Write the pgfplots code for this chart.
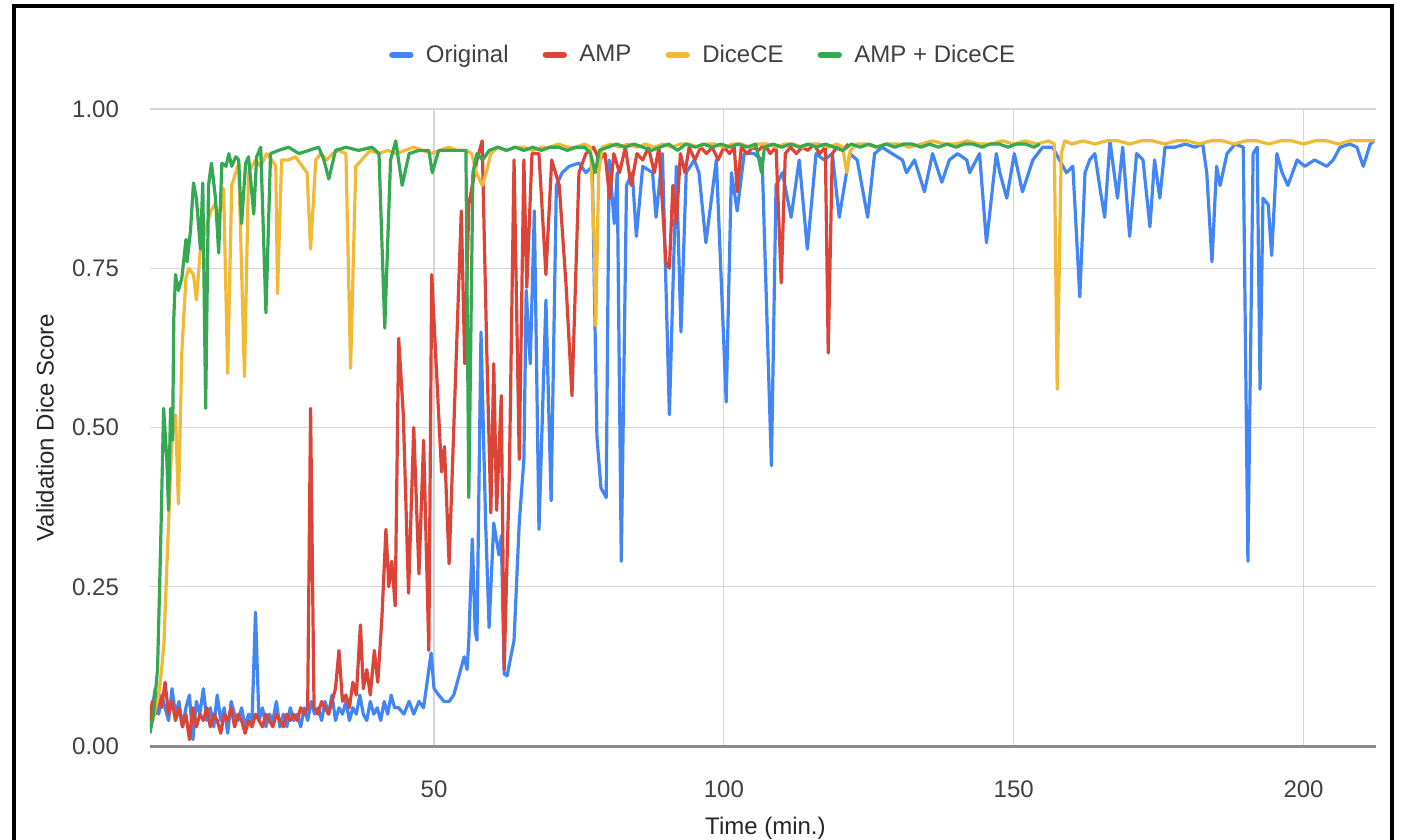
\documentclass[border=0pt]{standalone}
\usepackage{fontspec}
\setmainfont{Liberation Sans}
\usepackage{pgfplots}
\pgfplotsset{compat=1.18}

\definecolor{gblue}{HTML}{4285F4}
\definecolor{gred}{HTML}{DB4437}
\definecolor{gyellow}{HTML}{F2B936}
\definecolor{ggreen}{HTML}{34A853}
\definecolor{txt}{HTML}{404040}

\begin{document}
\begin{tikzpicture}
\path[use as bounding box] (-75pt,-47pt) rectangle (626pt,373pt);
\begin{axis}[
  scale only axis,
  width=613pt, height=318.5pt,
  xmin=1, xmax=212.5, ymin=0, ymax=1,
  xtick={50,100,150,200},
  ytick={0,0.25,0.5,0.75,1},
  /pgf/number format/assume math mode=true,
  tick label style={font=\fontsize{12}{14}\selectfont, text=txt},
  yticklabel style={/pgf/number format/fixed, /pgf/number format/fixed zerofill, /pgf/number format/precision=2, xshift=-12pt},
  xticklabel style={yshift=-14pt},
  major tick length=0pt,
  axis line style={draw=none},
  grid=major,
  major grid style={draw=black!16, line width=0.6pt},
  extra y ticks={0},
  extra y tick labels={},
  extra y tick style={grid=major, major grid style={draw=black!45, line width=1.5pt}},
  xlabel={Time (min.)},
  ylabel={Validation Dice Score},
  label style={font=\fontsize{12}{14}\selectfont, text=black!85},
  xlabel style={at={(axis description cs:0.502,-0.129)}, anchor=center},
  ylabel style={at={(axis description cs:-0.0856,0.5)}, anchor=center},
  legend style={draw=none, fill=none, at={(axis description cs:0.452,1.085)}, anchor=center,
    font=\fontsize{12}{14}\selectfont, text=txt,
    /tikz/every even column/.append style={column sep=15pt}},
  legend columns=-1,
  legend image code/.code={\draw[#1, line width=3.2pt, line cap=round] (0pt,0pt) -- (9pt,0pt); \path (14pt,0pt);},
  every axis plot/.append style={line width=1.6pt, line join=round},
]
\addplot[gblue] coordinates {
(1.0,0.03) (1.4,0.06) (1.9,0.09) (2.5,0.05) (3.0,0.08) (3.6,0.06) (4.2,0.04) (4.8,0.09) (5.4,0.05) (6.0,0.07) (6.6,0.03) (7.2,0.06) (7.8,0.08) (8.4,0.01) (9.0,0.07) (9.6,0.05) (10.2,0.09) (10.8,0.04) (11.4,0.06) (12.0,0.03) (12.6,0.08) (13.2,0.04) (13.8,0.06) (14.4,0.02) (15.0,0.07) (15.6,0.05) (16.2,0.04) (16.8,0.06) (17.4,0.03) (18.0,0.05) (18.6,0.04) (19.2,0.21) (19.8,0.04) (20.4,0.06) (21.0,0.03) (21.6,0.05) (22.2,0.04) (22.8,0.07) (23.4,0.03) (24.0,0.05) (24.6,0.03) (25.2,0.06) (25.8,0.04) (26.4,0.05) (27.0,0.03) (27.6,0.06) (28.2,0.04) (28.8,0.07) (29.4,0.05) (30.0,0.06) (30.6,0.04) (31.2,0.07) (31.8,0.05) (32.4,0.08) (33.0,0.04) (33.6,0.06) (34.2,0.05) (34.8,0.07) (35.4,0.04) (36.0,0.06) (36.6,0.05) (37.2,0.08) (37.8,0.05) (38.4,0.04) (39.0,0.07) (39.6,0.05) (40.2,0.06) (40.8,0.04) (41.4,0.07) (42.0,0.05) (42.6,0.08) (43.2,0.06) (43.9,0.06) (44.8,0.05) (45.7,0.07) (46.5,0.05) (47.4,0.07) (48.2,0.06) (48.8,0.10) (49.5,0.146) (50.0,0.09) (50.8,0.08) (51.7,0.07) (52.6,0.07) (53.4,0.08) (54.3,0.11) (55.2,0.14) (55.7,0.12) (56.0,0.166) (56.6,0.325) (57.1,0.18) (57.4,0.166) (58.1,0.65) (58.9,0.35) (59.5,0.186) (60.3,0.35) (61.2,0.30) (61.6,0.33) (62.1,0.113) (62.6,0.11) (63.8,0.166) (64.7,0.35) (65.5,0.45) (65.9,0.715) (66.6,0.6) (67.3,0.84) (68.1,0.34) (69.3,0.70) (70.2,0.385) (71.1,0.88) (72.1,0.90) (73.3,0.91) (75.0,0.915) (76.2,0.90) (77.3,0.91) (78.1,0.485) (78.8,0.405) (79.7,0.39) (80.2,0.92) (81.1,0.82) (81.6,0.90) (82.3,0.29) (83.2,0.88) (84.2,0.90) (84.9,0.80) (86.0,0.91) (87.7,0.90) (88.3,0.83) (89.4,0.93) (90.6,0.52) (91.8,0.91) (92.6,0.65) (93.5,0.90) (94.9,0.92) (95.7,0.90) (96.9,0.79) (98.7,0.92) (100.4,0.54) (101.3,0.90) (102.3,0.84) (103.5,0.93) (105.2,0.93) (106.6,0.92) (108.2,0.44) (109.0,0.88) (110.1,0.90) (111.6,0.83) (113.0,0.92) (114.4,0.78) (115.9,0.93) (117.3,0.92) (118.7,0.93) (119.9,0.83) (121.7,0.93) (123.0,0.92) (124.8,0.83) (126.0,0.93) (127.3,0.94) (129.0,0.93) (130.8,0.92) (131.5,0.90) (132.9,0.92) (134.6,0.87) (136.0,0.93) (137.6,0.885) (138.9,0.92) (140.3,0.93) (141.9,0.92) (142.4,0.90) (144.1,0.93) (145.3,0.79) (147.0,0.93) (147.6,0.90) (148.8,0.86) (150.1,0.93) (151.5,0.87) (153.3,0.92) (155.0,0.94) (156.7,0.94) (157.9,0.92) (159.1,0.90) (160.2,0.91) (161.4,0.705) (162.3,0.90) (163.1,0.92) (164.0,0.93) (164.8,0.88) (165.7,0.83) (166.6,0.95) (167.9,0.86) (168.8,0.94) (170.0,0.80) (171.2,0.93) (172.3,0.92) (173.5,0.815) (174.3,0.92) (175.2,0.86) (176.1,0.94) (177.8,0.94) (179.6,0.945) (181.3,0.94) (182.6,0.945) (183.3,0.90) (184.2,0.76) (185.0,0.91) (185.6,0.88) (186.8,0.93) (188.2,0.945) (189.6,0.94) (190.4,0.29) (191.3,0.93) (192.0,0.94) (192.5,0.56) (193.0,0.86) (193.9,0.85) (194.5,0.77) (195.4,0.93) (196.3,0.90) (197.3,0.88) (198.9,0.92) (200.2,0.91) (201.9,0.92) (204.0,0.91) (205.1,0.92) (206.3,0.94) (208.0,0.945) (209.2,0.94) (210.3,0.91) (211.5,0.945) (212.2,0.95)
};
\addplot[gred] coordinates {
(1.0,0.04) (1.4,0.07) (1.9,0.05) (2.5,0.08) (3.0,0.06) (3.6,0.10) (4.2,0.05) (4.8,0.07) (5.4,0.04) (6.0,0.06) (6.6,0.03) (7.2,0.05) (7.8,0.01) (8.4,0.06) (9.0,0.03) (9.6,0.05) (10.2,0.04) (10.8,0.06) (11.4,0.03) (12.0,0.05) (12.6,0.04) (13.2,0.02) (13.8,0.05) (14.4,0.04) (15.0,0.06) (15.6,0.03) (16.2,0.05) (16.8,0.04) (17.4,0.02) (18.0,0.04) (18.6,0.03) (19.2,0.05) (19.8,0.04) (20.4,0.03) (21.0,0.05) (21.6,0.04) (22.2,0.03) (22.8,0.05) (23.4,0.04) (24.0,0.03) (24.6,0.05) (25.2,0.04) (25.8,0.05) (26.4,0.04) (27.0,0.06) (27.6,0.05) (28.2,0.06) (28.7,0.53) (29.3,0.06) (30.0,0.05) (30.6,0.07) (31.2,0.06) (31.8,0.05) (32.4,0.07) (33.0,0.09) (33.6,0.15) (34.2,0.07) (34.8,0.08) (35.4,0.06) (36.0,0.10) (36.6,0.08) (37.3,0.19) (37.8,0.09) (38.4,0.12) (39.0,0.08) (39.7,0.15) (40.3,0.10) (41.0,0.20) (41.7,0.34) (42.2,0.25) (42.7,0.29) (43.3,0.22) (43.9,0.64) (44.7,0.52) (45.6,0.24) (46.5,0.50) (47.4,0.27) (48.2,0.48) (49.1,0.15) (49.6,0.74) (50.8,0.52) (51.3,0.43) (51.8,0.47) (52.6,0.286) (54.7,0.84) (55.3,0.60) (56.0,0.85) (57.4,0.92) (58.3,0.95) (59.1,0.62) (59.8,0.366) (60.3,0.60) (60.8,0.37) (61.6,0.55) (62.1,0.12) (63.0,0.43) (63.8,0.92) (64.7,0.45) (65.5,0.92) (66.0,0.72) (66.9,0.93) (68.1,0.93) (69.3,0.74) (70.3,0.92) (71.6,0.88) (72.8,0.72) (73.8,0.55) (75.0,0.90) (76.2,0.93) (77.5,0.94) (78.5,0.92) (79.5,0.93) (80.3,0.86) (81.0,0.93) (82.0,0.90) (83.0,0.94) (84.0,0.88) (85.0,0.93) (86.0,0.92) (87.0,0.94) (88.0,0.90) (88.8,0.94) (89.4,0.85) (90.0,0.76) (90.6,0.75) (91.2,0.88) (91.8,0.82) (92.5,0.93) (93.3,0.90) (94.0,0.94) (95.0,0.92) (96.0,0.94) (97.0,0.93) (98.0,0.94) (99.0,0.92) (100.0,0.94) (101.0,0.93) (101.8,0.94) (102.3,0.87) (103.0,0.94) (104.0,0.93) (105.0,0.94) (106.0,0.935) (107.0,0.945) (108.0,0.93) (109.0,0.94) (109.9,0.727) (110.6,0.93) (111.5,0.94) (112.5,0.93) (113.5,0.94) (114.5,0.935) (115.5,0.945) (116.5,0.93) (117.5,0.94) (118.0,0.617) (118.7,0.93) (119.5,0.94) (120.5,0.935) (121.5,0.945)
};
\addplot[gyellow] coordinates {
(1.0,0.03) (1.5,0.04) (2.0,0.06) (2.5,0.08) (3.0,0.12) (3.4,0.16) (3.9,0.28) (4.2,0.35) (4.6,0.44) (4.9,0.50) (5.4,0.52) (5.9,0.38) (6.5,0.62) (7.2,0.735) (7.7,0.75) (8.5,0.74) (9.0,0.70) (9.7,0.78) (10.6,0.81) (11.5,0.84) (12.2,0.85) (12.9,0.83) (13.7,0.875) (14.4,0.585) (15.1,0.88) (16.3,0.915) (17.3,0.58) (18.0,0.90) (19.2,0.92) (20.1,0.91) (21.1,0.93) (22.0,0.92) (22.7,0.91) (23.0,0.71) (23.7,0.92) (24.9,0.92) (26.1,0.925) (27.3,0.91) (28.1,0.90) (28.7,0.78) (29.6,0.92) (30.5,0.93) (31.5,0.92) (32.5,0.93) (33.5,0.935) (34.8,0.93) (35.6,0.593) (36.5,0.91) (37.5,0.92) (39.0,0.935) (40.5,0.93) (42.0,0.935) (43.5,0.93) (45.0,0.935) (46.5,0.94) (48.0,0.935) (49.5,0.93) (51.0,0.935) (52.5,0.94) (54.0,0.935) (55.5,0.935) (56.5,0.93) (57.3,0.90) (58.3,0.88) (59.0,0.90) (59.8,0.93) (61.0,0.94) (62.5,0.935) (64.0,0.94) (65.5,0.94) (67.0,0.935) (68.5,0.94) (70.0,0.94) (71.5,0.945) (73.0,0.94) (74.5,0.94) (76.0,0.945) (77.0,0.94) (77.6,0.80) (77.9,0.66) (78.4,0.90) (79.0,0.94) (80.5,0.945) (82.0,0.94) (83.5,0.945) (85.0,0.94) (86.5,0.945) (88.0,0.94) (89.5,0.945) (91.0,0.94) (92.5,0.945) (94.0,0.945) (95.5,0.94) (97.0,0.945) (98.5,0.945) (100.0,0.94) (101.5,0.945) (103.0,0.945) (104.5,0.94) (106.0,0.945) (107.5,0.945) (109.0,0.94) (110.5,0.945) (112.0,0.945) (113.5,0.94) (115.0,0.945) (116.5,0.945) (118.0,0.94) (119.5,0.945) (120.5,0.94) (121.2,0.90) (121.8,0.935) (123.0,0.945) (124.5,0.945) (126.0,0.94) (128.0,0.945) (130.0,0.945) (132.0,0.94) (134.0,0.945) (136.0,0.95) (138.0,0.945) (140.0,0.945) (142.0,0.95) (144.0,0.945) (146.0,0.945) (148.0,0.95) (150.0,0.945) (152.0,0.95) (154.0,0.945) (156.0,0.95) (157.0,0.945) (157.5,0.56) (158.2,0.93) (158.8,0.95) (160.0,0.945) (162.0,0.95) (164.0,0.945) (166.0,0.95) (168.0,0.95) (170.0,0.945) (172.0,0.95) (174.0,0.95) (176.0,0.945) (178.0,0.95) (180.0,0.95) (182.0,0.945) (184.0,0.95) (186.0,0.95) (188.0,0.945) (190.0,0.95) (192.0,0.95) (194.0,0.945) (196.0,0.95) (198.0,0.95) (200.0,0.945) (202.0,0.95) (204.0,0.95) (206.0,0.945) (208.0,0.95) (210.0,0.95) (212.3,0.95)
};
\addplot[ggreen] coordinates {
(1.0,0.02) (1.6,0.05) (2.3,0.12) (2.8,0.30) (3.35,0.53) (3.9,0.45) (4.2,0.37) (4.55,0.53) (4.9,0.48) (5.1,0.67) (5.4,0.74) (5.9,0.715) (6.5,0.735) (7.2,0.795) (7.4,0.76) (8.0,0.81) (8.5,0.884) (9.0,0.86) (9.7,0.78) (10.1,0.884) (10.6,0.53) (11.1,0.88) (11.6,0.915) (12.3,0.86) (12.85,0.774) (13.4,0.915) (14.1,0.91) (14.6,0.93) (15.1,0.91) (15.8,0.925) (16.3,0.92) (16.8,0.82) (17.5,0.915) (18.0,0.925) (18.9,0.835) (19.4,0.925) (20.1,0.94) (21.0,0.68) (21.8,0.93) (23.2,0.935) (24.9,0.94) (26.7,0.93) (28.4,0.935) (30.1,0.94) (31.0,0.92) (31.85,0.89) (33.0,0.935) (34.8,0.94) (37.0,0.935) (39.3,0.94) (40.5,0.93) (41.5,0.656) (42.5,0.92) (43.4,0.95) (44.5,0.88) (45.7,0.93) (47.4,0.935) (49.1,0.935) (49.7,0.90) (50.8,0.935) (52.6,0.935) (54.3,0.935) (55.5,0.935) (56.0,0.39) (56.7,0.90) (57.4,0.93) (58.4,0.92) (59.5,0.935) (61.0,0.94) (62.5,0.935) (64.0,0.94) (65.5,0.935) (67.0,0.94) (68.5,0.935) (70.0,0.94) (71.5,0.94) (73.0,0.935) (74.5,0.94) (76.0,0.94) (77.0,0.93) (77.8,0.90) (78.5,0.935) (80.0,0.94) (81.5,0.945) (83.0,0.94) (84.5,0.945) (86.0,0.94) (87.5,0.935) (89.0,0.94) (90.5,0.945) (92.0,0.935) (93.5,0.945) (95.0,0.94) (96.5,0.945) (98.0,0.94) (99.5,0.945) (101.0,0.94) (102.5,0.945) (104.0,0.94) (105.5,0.945) (106.5,0.90) (107.0,0.94) (108.5,0.945) (110.0,0.94) (111.5,0.945) (113.0,0.94) (114.5,0.945) (116.0,0.94) (117.5,0.945) (119.0,0.94) (120.5,0.935) (122.0,0.945) (123.5,0.94) (125.0,0.945) (126.5,0.94) (128.0,0.945) (129.5,0.94) (131.0,0.945) (132.5,0.945) (134.0,0.94) (135.5,0.945) (137.0,0.94) (138.5,0.945) (140.0,0.94) (141.5,0.945) (143.0,0.945) (144.5,0.94) (146.0,0.945) (147.5,0.945) (149.0,0.94) (150.5,0.945) (152.0,0.945) (153.5,0.94) (154.5,0.945)
};
\legend{Original,AMP,DiceCE,AMP + DiceCE}
\end{axis}
\draw[line width=1.6pt, black] (-68pt,-60pt) -- (-68pt,370pt) -- (621pt,370pt) -- (621pt,-60pt);
\end{tikzpicture}
\end{document}
